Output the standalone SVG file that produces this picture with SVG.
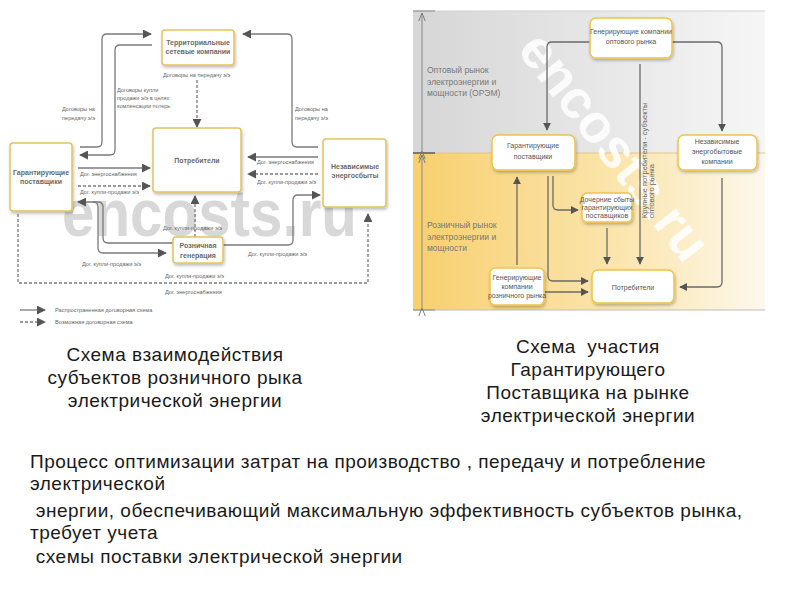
<svg xmlns="http://www.w3.org/2000/svg" width="800" height="600" viewBox="0 0 800 600">
<defs>
<style>
.lbox{fill:#fff;stroke:#e3c35a;stroke-width:1.5}
.ltx{font-family:"Liberation Sans",Arial,sans-serif;font-size:7px;font-weight:bold;fill:#6a6a6a;text-anchor:middle}
.lab{font-family:"Liberation Sans",Arial,sans-serif;font-size:5.6px;fill:#666}
.lc{fill:none;stroke:#7a7a7a;stroke-width:1.3}
.dash{stroke-dasharray:3,2}
.rbox{fill:#fff;stroke:#f0c44a;stroke-width:1.5}
.rtx{font-family:"Liberation Sans",Arial,sans-serif;font-size:7px;fill:#555;text-anchor:middle}
.rc{fill:none;stroke:#6a6a6a;stroke-width:1.3}
.mk{font-family:"Liberation Sans",Arial,sans-serif;font-size:8.5px;fill:#777}
.cap{font-family:"Liberation Sans",Arial,sans-serif;font-size:19px;letter-spacing:0.5px;fill:#1a1a1a;text-anchor:middle}
.par{font-family:"Liberation Sans",Arial,sans-serif;font-size:19px;letter-spacing:0.5px;fill:#1a1a1a}
</style>
<filter id="sh" x="-20%" y="-20%" width="150%" height="160%"><feDropShadow dx="1" dy="2" stdDeviation="1.5" flood-color="#000" flood-opacity="0.25"/></filter>
<marker id="a" viewBox="0 0 10 10" refX="9" refY="5" markerWidth="9" markerHeight="9" orient="auto" markerUnits="userSpaceOnUse"><path d="M0,0 L10,5 L0,10 z" fill="#555"/></marker>
<marker id="b" viewBox="0 0 10 10" refX="9" refY="5" markerWidth="8" markerHeight="8" orient="auto" markerUnits="userSpaceOnUse"><path d="M0,0 L10,5 L0,10 z" fill="#555"/></marker>
<marker id="v" viewBox="0 0 10 10" refX="10" refY="5" markerWidth="8" markerHeight="8" orient="auto" markerUnits="userSpaceOnUse"><path d="M0,1 L10,5 L0,9" fill="none" stroke="#777" stroke-width="1.2"/></marker>
<linearGradient id="gg" x1="0" y1="0" x2="1" y2="0"><stop offset="0" stop-color="#d6d6d6"/><stop offset="1" stop-color="#f6f6f6"/></linearGradient>
<linearGradient id="gy" x1="0" y1="0" x2="1" y2="0"><stop offset="0" stop-color="#f8cf6e"/><stop offset="0.6" stop-color="#fbe6b0"/><stop offset="1" stop-color="#fdf8ec"/></linearGradient>
</defs>
<rect width="800" height="600" fill="#fff"/>

<!-- LEFT DIAGRAM -->
<text x="62" y="236" font-family="Liberation Sans,Arial,sans-serif" font-size="66" font-weight="bold" fill="#d8d8d8" textLength="295" lengthAdjust="spacingAndGlyphs">encosts.ru</text>

<g id="left-connectors">
<path class="lc" d="M80,147 H97 Q102,147 102,142 V39 Q102,34 107,34 H151" marker-end="url(#a)"/>
<path class="lc" d="M152,45 H120 Q115,45 115,50 V150 Q115,155 110,155 H80" marker-end="url(#a)"/>
<path class="lc dash" d="M197,80 V127" marker-end="url(#a)"/>
<path class="lc" d="M318,147 H297 Q292,147 292,142 V39 Q292,34 287,34 H243" marker-end="url(#a)"/>
<path class="lc" d="M318,157 H248" marker-end="url(#a)"/>
<path class="lc dash" d="M318,174 H248" marker-end="url(#a)"/>
<path class="lc" d="M78,168 H150" marker-end="url(#a)"/>
<path class="lc dash" d="M78,186 H150" marker-end="url(#a)"/>
<path class="lc" d="M173,243 H108 Q103,243 103,238 V207 Q103,202 98,202 H78" marker-end="url(#a)"/>
<path class="lc" d="M93,202 Q98,202 98,207 V248 Q98,253 103,253 H166" marker-end="url(#a)"/>
<path class="lc dash" d="M195,237 V196" marker-end="url(#a)"/>
<path class="lc" d="M223,245 H288 Q293,245 293,240 V200 Q293,195 298,195 H320" marker-end="url(#a)"/>
<path class="lc dash" d="M18,214 V283 H368 V214" marker-end="url(#a)"/>
<path class="lc" d="M20,310 H45" marker-end="url(#a)"/>
<path class="lc dash" d="M20,322 H45" marker-end="url(#a)"/>
</g>

<g id="left-labels">
<text class="lab" x="62" y="111">Договоры на</text>
<text class="lab" x="62" y="120">передачу э/э</text>
<text class="lab" x="117" y="92">Договоры купли</text>
<text class="lab" x="117" y="100">продажи э/э в целях</text>
<text class="lab" x="117" y="108">компенсации потерь</text>
<text class="lab" x="163" y="77">Договоры на передачу э/э</text>
<text class="lab" x="295" y="111">Договоры на</text>
<text class="lab" x="295" y="120">передачу э/э</text>
<text class="lab" x="257" y="164">Дог. энергоснабжения</text>
<text class="lab" x="257" y="184">Дог. купли-продажи э/э</text>
<text class="lab" x="80" y="176">Дог. энергоснабжения</text>
<text class="lab" x="80" y="194">Дог. купли-продажи э/э</text>
<text class="lab" x="82" y="266">Дог. купли-продажи э/э</text>
<text class="lab" x="163" y="230">Дог. купли-продажи э/э</text>
<text class="lab" x="248" y="256">Дог. купли-продажи э/э</text>
<text class="lab" x="165" y="278">Дог. купли-продажи э/э</text>
<text class="lab" x="165" y="294">Дог. энергоснабжения</text>
<text class="lab" x="55" y="312">Распространенная договорная схема</text>
<text class="lab" x="55" y="324">Возможная договорная схема</text>
</g>

<g id="tsk"><rect class="lbox" x="162" y="30" width="72" height="35" rx="3" filter="url(#sh)"/><text class="ltx" x="198" y="45">Территориальные</text><text class="ltx" x="198" y="54">сетевые компании</text></g>
<g id="potr-l"><rect class="lbox" x="153" y="128" width="88" height="64" rx="3" filter="url(#sh)"/><text class="ltx" x="197" y="163">Потребители</text></g>
<g id="gp-l"><rect class="lbox" x="10" y="143" width="62" height="68" rx="3" filter="url(#sh)"/><text class="ltx" x="41" y="175">Гарантирующие</text><text class="ltx" x="41" y="184">поставщики</text></g>
<g id="nez-l"><rect class="lbox" x="323" y="139" width="63" height="68" rx="3" filter="url(#sh)"/><text class="ltx" x="355" y="169">Независимые</text><text class="ltx" x="355" y="178">энергосбыты</text></g>
<g id="rozn"><rect class="lbox" x="173" y="237" width="50" height="26" rx="3" filter="url(#sh)"/><text class="ltx" x="198" y="248">Розничная</text><text class="ltx" x="198" y="258">генерация</text></g>

<!-- RIGHT DIAGRAM -->
<rect x="413" y="11" width="352" height="142" fill="url(#gg)"/>
<rect x="413" y="153" width="352" height="157" fill="url(#gy)"/>
<line x1="413" y1="11" x2="765" y2="11" stroke="#d0d0d0" stroke-width="1"/>
<line x1="413" y1="310" x2="765" y2="310" stroke="#bdbdbd" stroke-width="1"/>
<line x1="413" y1="153" x2="765" y2="153" stroke="#e0c070" stroke-width="0.8"/>
<line x1="413" y1="11" x2="435" y2="11" stroke="#888" stroke-width="1"/>
<line x1="413" y1="153" x2="435" y2="153" stroke="#777" stroke-width="2"/>
<line x1="413" y1="310" x2="435" y2="310" stroke="#888" stroke-width="1"/>
<path d="M422,151 V13" fill="none" stroke="#888" stroke-width="1" marker-start="url(#v)" marker-end="url(#v)"/>
<path d="M422,308 V155" fill="none" stroke="#888" stroke-width="1" marker-start="url(#v)" marker-end="url(#v)"/>
<text class="mk" x="427" y="73">Оптовый рынок</text>
<text class="mk" x="427" y="85">электроэнергии и</text>
<text class="mk" x="427" y="96">мощности (ОРЭМ)</text>
<text class="mk" x="427" y="228">Розничный рынок</text>
<text class="mk" x="427" y="240">электроэнергии и</text>
<text class="mk" x="427" y="251">мощности</text>

<text transform="translate(613,148) rotate(52)" x="0" y="16" text-anchor="middle" font-family="Liberation Sans,Arial,sans-serif" font-size="54" font-weight="bold" fill="#fff" fill-opacity="0.85">encosts.ru</text>

<g id="right-connectors">
<path class="rc" d="M590,42 H552 Q547,42 547,47 V130" marker-end="url(#b)"/>
<path class="rc" d="M672,42 H717 Q722,42 722,47 V131" marker-end="url(#b)"/>
<path class="rc" d="M640,64 V264" marker-end="url(#b)"/>
<path class="rc" d="M553,176 V205 Q553,210 558,210 H578" marker-end="url(#b)"/>
<path class="rc" d="M548,176 V276 Q548,281 553,281 H588" marker-end="url(#b)"/>
<path class="rc" d="M545,292 H588" marker-end="url(#b)"/>
<path class="rc" d="M517,265 V177" marker-end="url(#b)"/>
<path class="rc" d="M607,228 V264" marker-end="url(#b)"/>
<path class="rc" d="M722,178 V282 Q722,287 717,287 H680" marker-end="url(#b)"/>
<text transform="translate(647,218) rotate(-90)" font-family="Liberation Sans,Arial,sans-serif" font-size="7.5" fill="#666">Крупные потребители - субъекты</text>
<text transform="translate(654,218) rotate(-90)" font-family="Liberation Sans,Arial,sans-serif" font-size="7.5" fill="#666">оптового рынка</text>
</g>

<g id="gen-opt"><rect class="rbox" x="590" y="18" width="82" height="40" rx="6" filter="url(#sh)"/><text class="rtx" x="631" y="34">Генерирующие компании</text><text class="rtx" x="631" y="44">оптового рынка</text></g>
<g id="gp-r"><rect class="rbox" x="492" y="135" width="83" height="35" rx="6" filter="url(#sh)"/><text class="rtx" x="533" y="148">Гарантирующие</text><text class="rtx" x="533" y="159">поставщики</text></g>
<g id="nez-r"><rect class="rbox" x="678" y="135" width="79" height="35" rx="6" filter="url(#sh)"/><text class="rtx" x="717" y="144">Независимые</text><text class="rtx" x="717" y="154">энергобытовые</text><text class="rtx" x="717" y="164">компании</text></g>
<g id="doch"><rect class="rbox" x="582" y="193" width="50" height="29" rx="5" filter="url(#sh)"/><text class="rtx" x="607" y="202" font-size="5.5">Дочерние сбыты</text><text class="rtx" x="607" y="210" font-size="5.5">гарантирующих</text><text class="rtx" x="607" y="218" font-size="5.5">поставщиков</text></g>
<g id="gen-rozn"><rect class="rbox" x="490" y="268" width="54" height="37" rx="5" filter="url(#sh)"/><text class="rtx" x="517" y="280" font-size="5.5">Генерирующие</text><text class="rtx" x="517" y="289" font-size="5.5">компании</text><text class="rtx" x="517" y="298" font-size="5.5">розничного рынка</text></g>
<g id="potr-r"><rect class="rbox" x="592" y="270" width="82" height="33" rx="6" filter="url(#sh)"/><text class="rtx" x="633" y="290">Потребители</text></g>

<!-- CAPTIONS -->
<text class="cap" x="175" y="361">Схема взаимодействия</text>
<text class="cap" x="175" y="384">субъектов розничного рыка</text>
<text class="cap" x="175" y="407">электрической энергии</text>
<text class="cap" x="588" y="353" xml:space="preserve">Схема  участия</text>
<text class="cap" x="588" y="376">Гарантирующего</text>
<text class="cap" x="588" y="399">Поставщика на рынке</text>
<text class="cap" x="588" y="422">электрической энергии</text>
<text class="par" x="30" y="468">Процесс оптимизации затрат на производство , передачу и потребление</text>
<text class="par" x="30" y="490">электрической</text>
<text class="par" x="30" y="517" xml:space="preserve"> энергии, обеспечивающий максимальную эффективность субъектов рынка,</text>
<text class="par" x="30" y="539">требует учета</text>
<text class="par" x="30" y="563" xml:space="preserve"> схемы поставки электрической энергии</text>
</svg>
